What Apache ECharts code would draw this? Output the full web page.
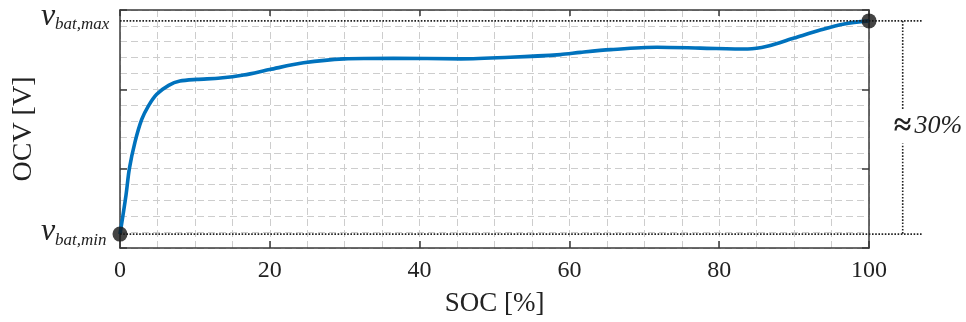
<!DOCTYPE html>
<html>
<head>
<meta charset="utf-8">
<script src="https://cdn.jsdelivr.net/npm/echarts@6/dist/echarts.min.js"></script>
<style>html,body{margin:0;padding:0;background:#fff;}#c{width:966px;height:322px;}</style>
</head>
<body>
<div id="c"></div>
<script>
// ---- data ----
const soc = [0, 0.8, 1.25, 2.0, 2.9, 3.8, 4.9, 6.5, 8.0, 10.25, 13.4, 16.5, 20, 24.5, 29.9, 36.5, 45.5, 52.1, 58.8, 61.5, 65.5, 71.7, 77.5, 83.8, 86.4, 90.0, 93.6, 96.7, 100];
const ocv = [0.875, 3.33, 5.0, 6.67, 8.1, 8.96, 9.69, 10.25, 10.52, 10.625, 10.71, 10.9, 11.25, 11.67, 11.92, 11.96, 11.92, 12.02, 12.19, 12.33, 12.5, 12.65, 12.6, 12.54, 12.71, 13.23, 13.75, 14.12, 14.3125];
const socTicks = [0, 20, 40, 60, 80, 100];
const vMin = 0.875;
const vMax = 14.3125;
const endpointSoc = [0, 100];
const endpointOcv = [vMin, vMax];
const xLabel = 'SOC [%]';
const yLabel = 'OCV [V]';
const spanLabel = '30%';

const FONT = '"Liberation Serif","Times New Roman",serif';
const gridLine = {show: true, lineStyle: {color: '#cdcdcd', type: [7, 4], width: 1}};
const axisCol = '#3a3a3a';

const chart = echarts.init(document.getElementById('c'), null, {renderer: 'canvas'});
const line = soc.map((s, i) => [s, ocv[i]]);
const pts = endpointSoc.map((s, i) => [s, endpointOcv[i]]);

chart.setOption({
  animation: false,
  backgroundColor: '#fff',
  grid: {left: 120, right: 97, top: 10, bottom: 72},
  xAxis: [{
    type: 'value', min: socTicks[0], max: socTicks[socTicks.length - 1], interval: 20,
    position: 'bottom',
    axisLine: {show: true, onZero: false, lineStyle: {color: axisCol, width: 1.5}},
    axisTick: {show: true, inside: true, length: 7, lineStyle: {color: axisCol, width: 1.5}},
    axisLabel: {fontFamily: FONT, fontSize: 24, color: '#222', margin: 11},
    splitLine: gridLine,
    minorTick: {show: false, splitNumber: 4},
    minorSplitLine: gridLine,
    name: xLabel, nameLocation: 'middle', nameGap: 42,
    nameTextStyle: {fontFamily: FONT, fontSize: 27, color: '#222'}
  }, {
    type: 'value', min: 0, max: 100, interval: 20, position: 'top',
    axisLine: {show: true, onZero: false, lineStyle: {color: axisCol, width: 1.5}},
    axisTick: {show: true, inside: true, length: 6, lineStyle: {color: axisCol, width: 1.5}},
    axisLabel: {show: false}, splitLine: {show: false}
  }],
  yAxis: [{
    type: 'value', min: 0, max: 15, interval: 5, position: 'left',
    axisLine: {show: true, onZero: false, lineStyle: {color: axisCol, width: 1.5}},
    axisTick: {show: true, inside: true, length: 7, lineStyle: {color: axisCol, width: 1.5}},
    axisLabel: {show: false},
    splitLine: gridLine,
    minorTick: {show: false, splitNumber: 5},
    minorSplitLine: gridLine,
    name: yLabel, nameLocation: 'middle', nameGap: 82, nameRotate: 90,
    nameTextStyle: {fontFamily: FONT, fontSize: 28, color: '#222'}
  }, {
    type: 'value', min: 0, max: 15, interval: 5, position: 'right',
    axisLine: {show: true, onZero: false, lineStyle: {color: axisCol, width: 1.5}},
    axisTick: {show: true, inside: true, length: 7, lineStyle: {color: axisCol, width: 1.5}},
    axisLabel: {show: false}, splitLine: {show: false}
  }],
  series: [{
    type: 'line', data: line, smooth: 0.3, showSymbol: false, clip: false,
    lineStyle: {color: '#0072BD', width: 3.6}, z: 5
  }, {
    type: 'scatter', data: pts, symbol: 'circle', symbolSize: 15, clip: false,
    itemStyle: {color: '#151515'}, z: 10
  }]
});

function px(v) { return chart.convertToPixel({xAxisIndex: 0, yAxisIndex: 0}, v); }
const pMin = px([0, vMin]);
const pMax = px([0, vMax]);
const xEnd = px([107.2, vMin])[0];
const xVert = px([104.5, vMin])[0];
const dot = {stroke: '#222', lineWidth: 1.6, lineDash: [1.6, 1.6]};
const gfx = [
  {type: 'line', shape: {x1: pMax[0], y1: pMax[1], x2: xEnd, y2: pMax[1]}, style: dot, z: 8},
  {type: 'line', shape: {x1: pMin[0], y1: pMin[1], x2: xEnd, y2: pMin[1]}, style: dot, z: 8},
  {type: 'line', shape: {x1: xVert, y1: pMax[1], x2: xVert, y2: pMin[1]}, style: dot, z: 8},
  {type: 'text', x: xVert - 9, y: (pMax[1] + pMin[1]) / 2 - 1, z: 20,
    style: {text: '{a|≈} {b|' + spanLabel + '}', verticalAlign: 'middle', align: 'left',
      backgroundColor: '#fff', padding: [1, 0, 1, 0],
      rich: {a: {fontFamily: FONT, fontSize: 32, fontWeight: 'bold', fill: '#222'},
             b: {fontFamily: FONT, fontSize: 26, fontStyle: 'italic', fill: '#222'}}}},
  {type: 'text', x: 41, y: pMax[1] - 4.5, z: 20, style: {text: 'v', font: 'italic 32px ' + FONT, fill: '#222', verticalAlign: 'middle'}},
  {type: 'text', x: 55, y: pMax[1] + 4, z: 20, style: {text: 'bat,max', font: 'italic 17px ' + FONT, fill: '#222', verticalAlign: 'middle'}},
  {type: 'text', x: 41, y: pMin[1] - 3, z: 20, style: {text: 'v', font: 'italic 32px ' + FONT, fill: '#222', verticalAlign: 'middle'}},
  {type: 'text', x: 55, y: pMin[1] + 6.5, z: 20, style: {text: 'bat,min', font: 'italic 17px ' + FONT, fill: '#222', verticalAlign: 'middle'}}
];
chart.setOption({graphic: gfx});
</script>
</body>
</html>
